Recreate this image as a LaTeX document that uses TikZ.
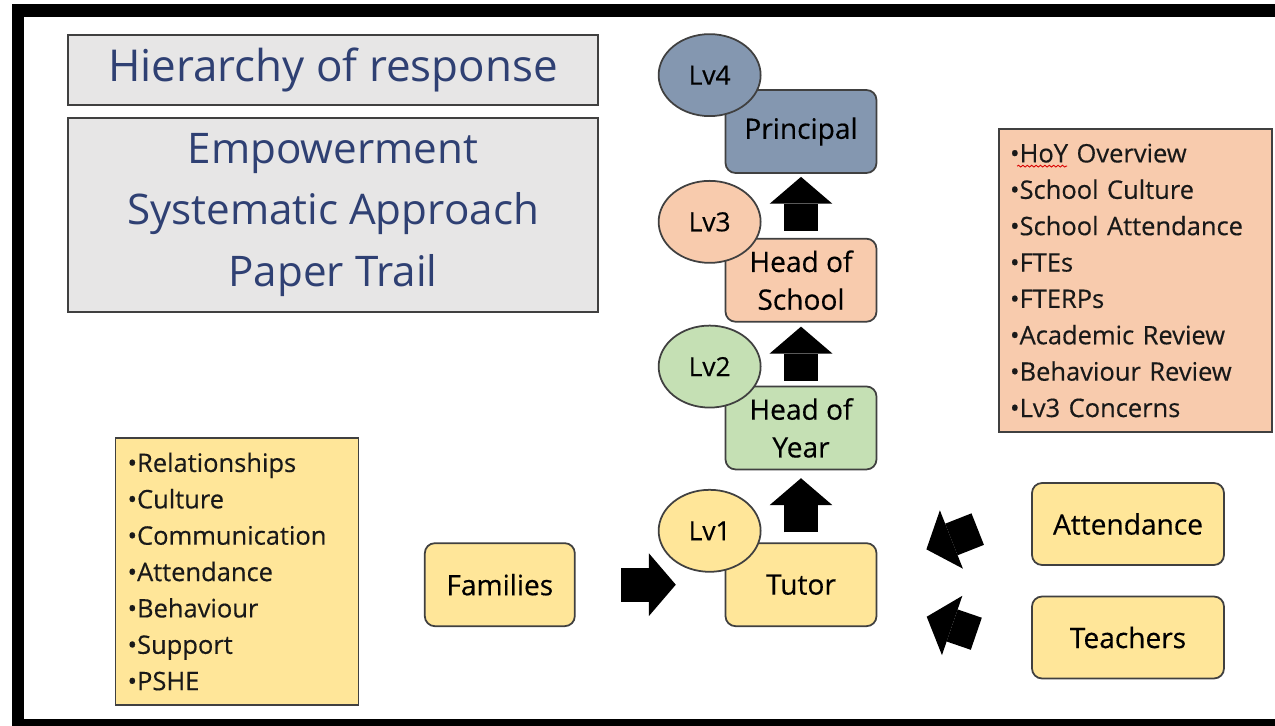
\documentclass[tikz,border=0pt]{standalone}
\usepackage{fontspec}
\setmainfont{Open Sans}
\newfontfamily\boxfont[FakeBold=0.4]{Open Sans}
\usetikzlibrary{positioning,calc,arrows.meta,shapes.geometric,decorations.pathmorphing}

\definecolor{slate}{RGB}{132,151,176}
\definecolor{peach}{RGB}{248,203,173}
\definecolor{sage}{RGB}{197,224,180}
\definecolor{butter}{RGB}{255,230,153}
\definecolor{paper}{RGB}{231,230,230}
\definecolor{navy}{RGB}{47,64,115}
\definecolor{edge}{RGB}{64,64,64}

\begin{document}
\begin{tikzpicture}[x=0.02cm, y=-0.02cm,
    panel/.style={rectangle, draw=edge, fill=paper, line width=1pt, text=navy, minimum width=10.6cm, font=\fontsize{24}{35}\selectfont},
    level/.style={rectangle, rounded corners=0.2cm, draw=edge, line width=1pt, minimum width=3.02cm, minimum height=1.66cm, align=center, font=\boxfont\fontsize{16}{21.5}\selectfont},
    badge/.style={ellipse, draw=edge, line width=1pt, minimum width=2.04cm, minimum height=1.64cm, inner sep=0pt, font=\boxfont\fontsize{15}{18}\selectfont},
    source/.style={level, fill=butter, minimum width=3.84cm, minimum height=1.64cm},
    notes/.style={rectangle, draw=edge, line width=1pt, align=left, text=black!90, font=\boxfont\fontsize{14.5}{20.7}\selectfont},
    push/.style={line width=19.3pt, -{Triangle[length=15.3pt, width=35.7pt, line width=0pt]}}
]
\useasboundingbox (0,0) rectangle (1275,726);
% frame
\fill[black] (12,4) rectangle (1275,726);
\fill[white] (24,17) rectangle (1275,719);

% headings
\node[panel, minimum height=1.4cm, font=\fontsize{25}{35}\selectfont] (title) at (333,70) {Hierarchy of response};
\node[panel, minimum height=3.88cm, align=center] (aims) at (333,215) {Empowerment\\Systematic Approach\\Paper Trail};

% the levels
\node[level, fill=slate] (principal) at (801,131.5) {Principal};
\node[level, fill=peach, below=1.28cm of principal] (hos) {Head of\\School};
\node[level, fill=sage, below=1.26cm of hos] (hoy) {Head of\\Year};
\node[level, fill=butter, below=1.44cm of hoy] (tutor) {Tutor};

\node[badge, fill=slate] (lv4) at ($(principal.north west)+(-15,-14)$) {Lv4};
\node[badge, fill=peach] (lv3) at ($(hos.north west)+(-15,-16)$) {Lv3};
\node[badge, fill=sage] (lv2) at ($(hoy.north west)+(-15,-19)$) {Lv2};
\node[badge, fill=butter] (lv1) at ($(tutor.north west)+(-15,-11.5)$) {Lv1};

% sources
\node[level, fill=butter, minimum width=3cm, left=2.98cm of tutor] (families) {Families};
\node[source] (attendance) at (1128,524) {Attendance};
\node[source] (teachers) at (1128,637.5) {Teachers};

% lists
\node[notes, fill=butter, inner xsep=0.24cm, text width=4.38cm, minimum height=5.34cm] (pillars) at (237,571.5) {\textbullet Relationships\\\textbullet Culture\\\textbullet Communication\\\textbullet Attendance\\\textbullet Behaviour\\\textbullet Support\\\textbullet PSHE};
\node[notes, fill=peach, inner xsep=0.22cm, text width=5.02cm, minimum height=6.06cm] (agenda) at (1135.5,280.5) {\textbullet HoY Overview\\\textbullet School Culture\\\textbullet School Attendance\\\textbullet FTEs\\\textbullet FTERPs\\\textbullet Academic Review\\\textbullet Behaviour Review\\\textbullet Lv3 Concerns};
\draw[red!85!black, line width=0.5pt, decorate, decoration={snake, amplitude=0.5pt, segment length=2.5pt}] ($(agenda.north west)+(19,38)$) -- ($(agenda.north west)+(69,38)$);

% arrows
\draw[push, shorten <=4pt, shorten >=1.7pt] (hos) -- (principal);
\draw[push, shorten <=2.8pt, shorten >=2.3pt] (hoy) -- (hos);
\draw[push, shorten <=5.7pt, shorten >=4.5pt] (tutor) -- (hoy);
\draw[push, shorten <=26pt, shorten >=27.8pt] (families) -- (tutor);
\draw[push, shorten <=32.7pt, shorten >=30pt] ([yshift=9.1pt]attendance.west) -- ([yshift=9.1pt]tutor.east);
\draw[push, shorten <=33pt, shorten >=29.7pt] ([yshift=-8.6pt]teachers.west) -- ([yshift=-8.6pt]tutor.east);
\end{tikzpicture}
\end{document}
